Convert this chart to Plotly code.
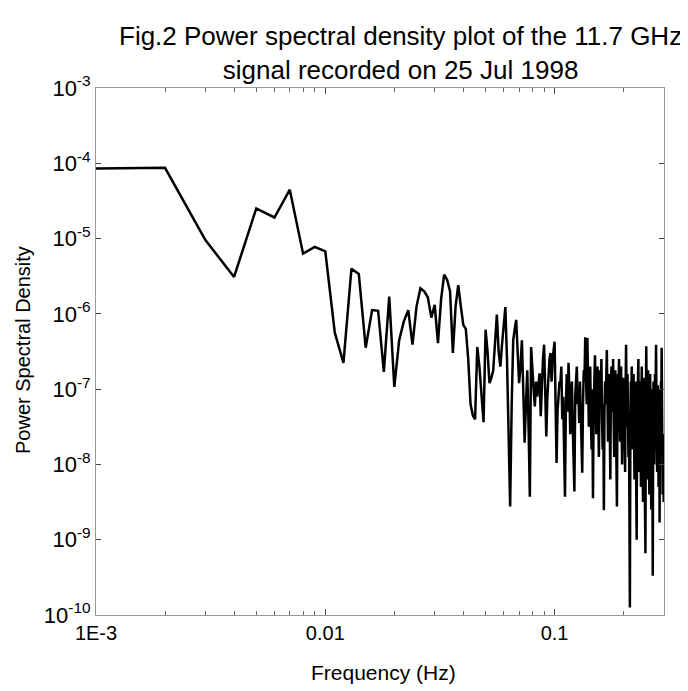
import numpy as np
import plotly.graph_objects as go

# frequency bin spacing (Hz); bins k = 1..N
freq_step_hz = 0.001

# log10 of power spectral density, one value per frequency bin
log_psd_low = [
    -4.07, -4.06, -5.02, -5.51, -4.60, -4.72, -4.35, -5.20, -5.11, -5.17,
    -6.25, -6.65, -5.40, -5.47, -6.45, -5.95, -5.96, -6.77, -5.77, -6.97,
    -6.35, -6.10, -5.95, -6.41, -5.90, -5.66, -5.70, -5.78, -6.05, -5.88,
    -6.39, -5.80, -5.48, -5.55, -5.70, -6.52, -5.90, -5.62, -5.90, -6.15,
    -6.20, -6.60, -7.20, -7.35, -7.40, -6.44, -6.70, -7.10, -7.44, -6.21,
    -6.50, -6.92, -6.85, -6.75, -6.40, -6.01, -6.50, -6.70, -6.40, -6.10,
]
log_psd_mid = [
    -5.91, -6.60, -7.60, -8.56, -7.20, -6.35, -6.20, -6.08, -6.50, -6.92,
    -6.70, -6.35, -7.00, -7.71, -7.20, -6.75, -7.50, -8.43, -6.44, -6.80,
    -7.00, -7.23, -6.90, -7.10, -6.95, -6.79, -7.36, -6.90, -6.60, -6.41,
    -7.00, -7.63, -7.10, -6.80, -6.60, -6.52, -6.90, -6.60, -6.45, -6.37,
    -7.20, -7.98, -7.30, -7.00, -6.90, -6.92,
    -6.70, -7.40, -7.10, -7.80, -8.43, -7.20, -6.80, -7.30, -6.65, -7.00,
    -7.60, -7.20, -6.90, -7.50, -7.90, -8.36, -7.10, -6.85, -6.70, -7.20,
    -7.00, -7.45, -6.90, -7.30, -7.70, -8.11, -7.20, -6.75, -6.90, -6.31,
    -6.80, -7.20, -6.32, -6.95, -7.50, -7.10, -6.70, -7.40, -7.80, -7.00,
    -8.45, -7.30, -6.80, -6.55, -7.20, -7.60, -7.00, -6.70, -7.35, -7.90,
]
log_psd_high = [
    -7.10, -6.75, -7.25, -6.60, -7.40, -7.80, -7.20, -8.61, -7.30, -6.90,
    -7.20, -6.85, -6.48, -7.10, -7.70, -7.30, -6.80, -7.50, -8.20, -7.00,
    -6.70, -7.30, -6.90, -6.60, -7.40, -7.90, -7.10, -6.75, -7.30, -7.80,
    -8.56, -7.20, -6.80, -7.00, -6.60, -7.30, -7.70, -7.10, -6.70, -7.50,
    -8.00, -7.20, -6.85, -7.40, -6.95, -7.60, -8.10, -7.00, -6.41, -7.10,
    -7.50, -6.80, -7.30, -7.90, -7.40, -8.60, -9.90, -7.50, -6.90, -7.20,
    -6.70, -7.40, -7.80, -7.10, -6.80, -7.50, -8.20, -7.30, -6.90, -7.60,
    -8.40, -9.00, -7.40, -6.80, -7.20, -6.60, -7.50, -8.10, -7.30, -6.90,
    -7.70, -8.30, -7.10, -6.70, -7.40, -7.90, -8.50, -7.20, -6.85, -7.60,
    -8.00, -8.60, -9.18, -7.30, -6.43, -7.00, -7.50, -8.20, -7.10, -6.75,
    -7.40, -7.90, -8.40, -7.20, -6.80, -7.30, -7.70, -8.60, -7.50, -7.00,
    -8.20, -9.48, -7.60, -6.90, -7.30, -8.00, -7.40, -6.80, -7.20, -6.90,
    -6.41, -7.10, -7.60, -8.10, -7.30, -6.95, -7.50, -8.30, -7.40, -7.00,
    -8.77, -7.60, -7.00, -7.40, -6.90, -7.30, -6.45, -7.20, -7.80, -8.40,
    -7.60, -7.90, -8.50, -8.20,
]
log_psd = log_psd_low + log_psd_mid + log_psd_high

freq = np.arange(1, len(log_psd) + 1) * freq_step_hz
psd = 10.0 ** np.array(log_psd)

x_tickvals = [0.001, 0.01, 0.1]
x_ticktext = ["1E-3", "0.01", "0.1"]
x_minor = [m * d for d in (0.001, 0.01, 0.1) for m in range(2, 10) if m * d <= 0.3]
y_exponents = [-10, -9, -8, -7, -6, -5, -4, -3]
y_tickvals = [10.0 ** e for e in y_exponents]
y_ticktext = ["10<sup>%d</sup>" % e for e in y_exponents]

title_text = "Fig.2 Power spectral density plot of the 11.7 GHz<br>signal recorded on 25 Jul 1998"
x_title = "Frequency (Hz)"
y_title = "Power Spectral Density"

FONT = "Liberation Sans, Arial, sans-serif"

# page body adds an 8px offset; figure coordinates below are screenshot - 8
OFF = 8
W, H = 680, 683
L, T = 96 - OFF, 88 - OFF
R = W - (664 - OFF)
B = H - (615 - OFF)
pw, ph = W - L - R, H - T - B


def px_to_paper(xs, ys):
    return ((xs - OFF) - L) / pw, ((H - B) - (ys - OFF)) / ph


fig = go.Figure()
fig.add_trace(go.Scatter(x=freq, y=psd, mode="lines",
                         line=dict(color="black", width=2.5), showlegend=False))

fig.update_layout(
    width=W, height=H,
    margin=dict(l=L, r=R, t=T, b=B),
    paper_bgcolor="white", plot_bgcolor="white",
    font=dict(family=FONT, color="black", size=20),
)
fig.update_xaxes(
    type="log", range=[np.log10(0.001), np.log10(0.3)],
    tickvals=x_tickvals, ticktext=x_ticktext,
    ticks="inside", ticklen=6, tickcolor="#444",
    minor=dict(tickvals=x_minor, ticks="inside", ticklen=4, tickcolor="#666"),
    showline=True, mirror="ticks", linecolor="#999", linewidth=1,
    showgrid=False, zeroline=False, tickfont=dict(size=20),
)
fig.update_yaxes(
    type="log", range=[-10, -3],
    tickvals=y_tickvals, ticktext=y_ticktext,
    ticks="inside", ticklen=5, tickcolor="#444",
    showline=True, mirror="ticks", linecolor="#999", linewidth=1,
    showgrid=False, zeroline=False, tickfont=dict(size=22),
)

tx, ty = px_to_paper(400, 53)
fig.add_annotation(text=title_text, xref="paper", yref="paper", x=tx, y=ty,
                   xanchor="center", yanchor="middle", showarrow=False,
                   font=dict(size=26, family=FONT))
ax_x, ax_y = px_to_paper(383, 672)
fig.add_annotation(text=x_title, xref="paper", yref="paper", x=ax_x, y=ax_y,
                   xanchor="center", yanchor="middle", showarrow=False,
                   font=dict(size=21, family=FONT))
ay_x, ay_y = px_to_paper(23, 350)
fig.add_annotation(text=y_title, xref="paper", yref="paper", x=ay_x, y=ay_y,
                   textangle=-90, xanchor="center", yanchor="middle", showarrow=False,
                   font=dict(size=20, family=FONT))

fig.write_html("out.html")
